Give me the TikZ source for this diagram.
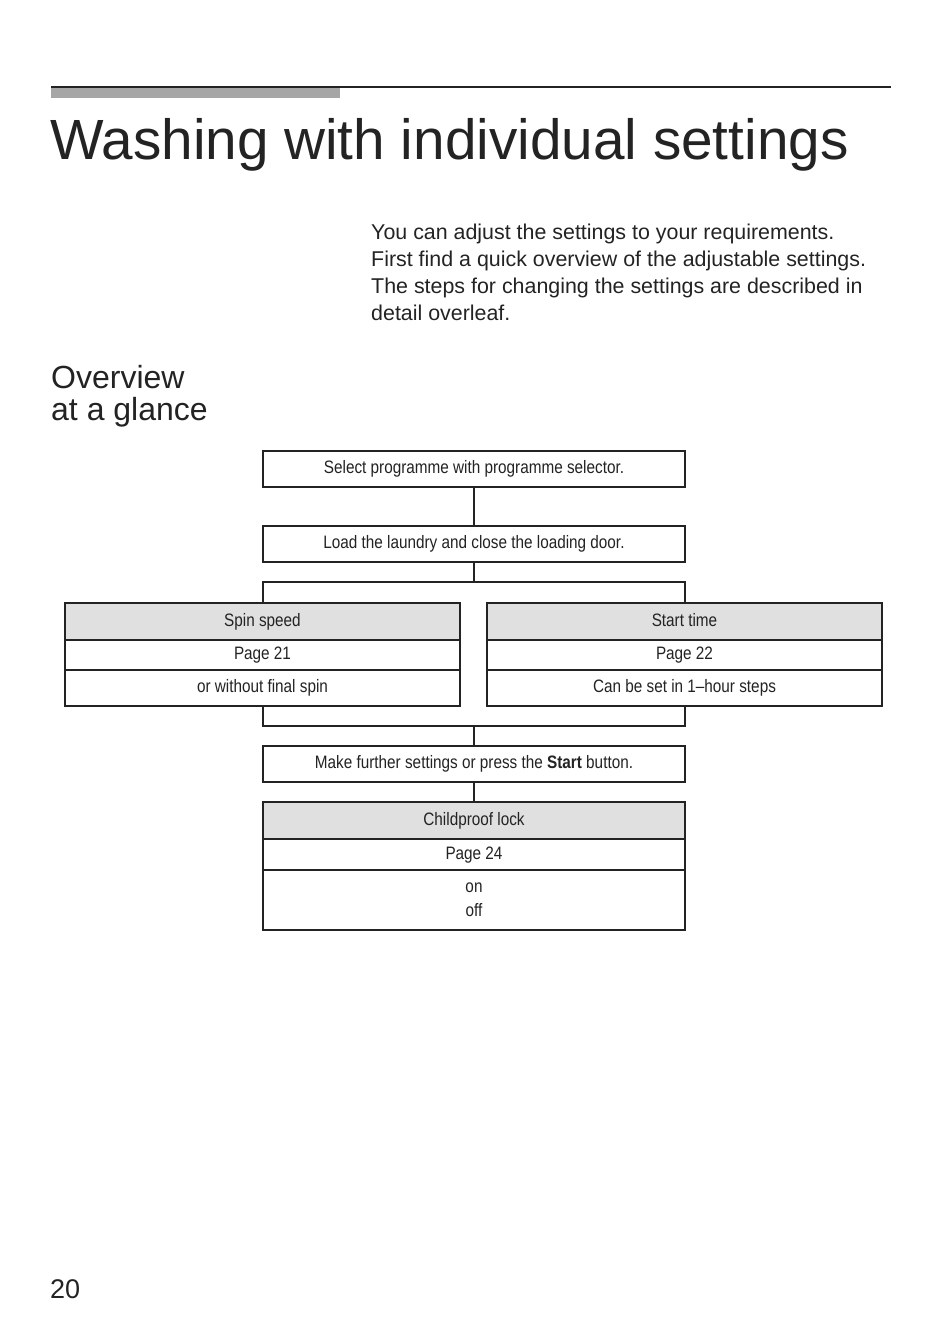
\documentclass[tikz,border=0pt]{standalone}
\usepackage{fontspec}
\setmainfont{Liberation Sans}
\newfontfamily\condfont[FakeStretch=0.85]{Liberation Sans}
\usetikzlibrary{positioning}

\definecolor{inkgrey}{HTML}{232323}
\definecolor{headgrey}{HTML}{E0E0E0}
\definecolor{bargrey}{HTML}{A6A6A6}

\begin{document}
\begin{tikzpicture}[
    x=1pt, y=-1pt,
    stepbox/.style={draw=inkgrey, line width=1.4pt, fill=white, outer sep=0pt,
                    minimum width=422pt, minimum height=36pt, inner sep=0pt,
                    font=\condfont\fontsize{18}{24}\selectfont, text=inkgrey,
                    text height=13pt, text depth=4pt},
    headrow/.style={stepbox, fill=headgrey, minimum height=37pt},
    pagerow/.style={stepbox, minimum height=30pt},
    link/.style={draw=inkgrey, line width=1.4pt},
]
\useasboundingbox (0,0) rectangle (950,1343);

% Header rule
\draw[inkgrey, line width=1.2pt] (51,87) -- (891,87);
\fill[bargrey] (51,88) rectangle (340,98);

% Title
\node[anchor=base west, inner sep=0pt, text=inkgrey,
      font=\fontsize{56.7}{60}\selectfont] (title) at (50,160)
    {Washing with individual settings};

% Intro text
\node[anchor=north west, inner sep=0pt, align=left, text=inkgrey,
      font=\fontsize{21.4}{27}\selectfont] (intro) at (371,224)
    {You can adjust the settings to your requirements.\\
     First find a quick overview of the adjustable settings.\\
     The steps for changing the settings are described in\\
     detail overleaf.};

% Side heading
\node[anchor=north west, inner sep=0pt, align=left, text=inkgrey,
      font=\fontsize{32}{32}\selectfont] (overview) at (51,365)
    {Overview\\at a glance};

% Flow steps
\node[stepbox] (select) at (474,469) {Select programme with programme selector.};
\node[stepbox] (load) at (474,544) {Load the laundry and close the loading door.};
\node[stepbox, minimum height=144pt] (setback) at (474,654) {};

% Spin speed table
\node[headrow, minimum width=395pt] (spinhd) at (262.5,621.5) {Spin speed};
\node[pagerow, minimum width=395pt] (spinpg) at (262.5,655) {Page 21};
\node[stepbox, minimum width=395pt] (spinval) at (262.5,688) {or without final spin};

% Start time table
\node[headrow, minimum width=395pt] (timehd) at (684.5,621.5) {Start time};
\node[pagerow, minimum width=395pt] (timepg) at (684.5,655) {Page 22};
\node[stepbox, minimum width=395pt] (timeval) at (684.5,688) {Can be set in 1–hour steps};

\node[stepbox] (further) at (474,764)
    {Make further settings or press the \textbf{Start} button.};

% Childproof lock table
\node[headrow] (childhd) at (474,820.5) {Childproof lock};
\node[pagerow, minimum height=31pt] (childpg) at (474,854.5) {Page 24};
\node[stepbox, minimum height=60pt, align=center, text height=, text depth=]
    (childval) at (474,900) {on\\off};

% Connectors
\draw[link] (select.south) -- (load.north);
\draw[link] (load.south) -- (setback.north);
\draw[link] (setback.south) -- (further.north);
\draw[link] (further.south) -- (childhd.north);

% Page number
\node[anchor=base west, inner sep=0pt, text=inkgrey,
      font=\fontsize{27}{27}\selectfont] (pagenum) at (50,1298) {20};

\end{tikzpicture}
\end{document}
